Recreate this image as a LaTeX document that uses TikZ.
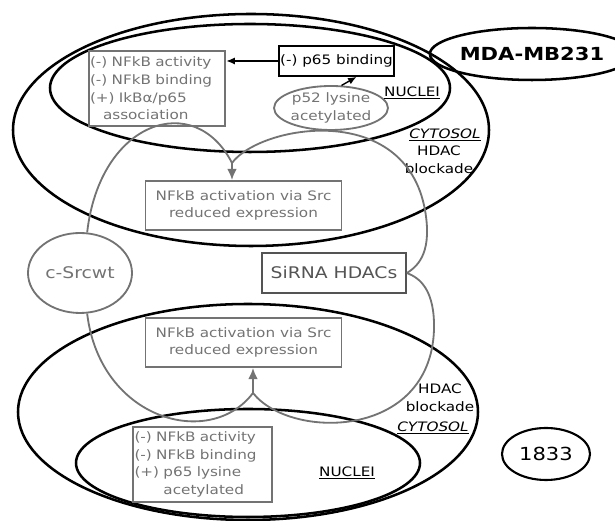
\documentclass[tikz,border=0pt]{standalone}
\usepackage{fontspec}
\setmainfont{DejaVu Sans}[FakeStretch=1.17]
\usetikzlibrary{arrows.meta,shapes.geometric}
\definecolor{boxgray}{gray}{0.45}
\definecolor{sirnagray}{gray}{0.33}

\begin{document}
\begin{tikzpicture}[>={Latex[length=6pt,width=5pt]},
  every node/.style={font=\fontsize{9.25}{12.6}\selectfont},
  membrane/.style={draw,ellipse,line width=1.8pt,inner sep=0pt},
  box/.style={draw=boxgray,text=boxgray,line width=1.3pt,inner sep=1pt,
              align=center},
  route/.style={draw=boxgray,line width=1.3pt},
  tag/.style={inner sep=0pt,align=center}]
 \useasboundingbox (0,0) rectangle (15.375,13.025);
 % MDA-MB231 cell
 \node[membrane,minimum width=11.9cm,minimum height=5.8cm] (upcyto) at (6.275,9.775) {};
 \node[membrane,minimum width=10cm,minimum height=3.2cm] (upnuc) at (6.25,10.825) {};
 \node[membrane,minimum width=4.1cm,minimum height=1.3cm,
    font=\fontsize{12.8}{14}\selectfont\bfseries] (mda) at (13.3,11.675) {MDA-MB231};
 \node[box,align=left,text width=3.35cm,minimum height=1.875cm] (upeffect) at (3.925,10.8125)
    {(-) NFkB activity\\(-) NFkB binding\\(+) IkBα/p65\\\hspace*{1em}association};
 \node[draw,line width=1.3pt,inner sep=1pt,minimum width=2.875cm,minimum height=0.75cm]
    (p65) at (8.4125,11.5) {(-) p65 binding};
 \node[box,ellipse,inner sep=0pt,minimum width=2.775cm,minimum height=1.1cm]
    (p52) at (8.275,10.325) {p52 lysine\\acetylated};
 \node[tag] (upnuclei) at (10.3,10.7) {\underline{NUCLEI}};
 \node[tag] (upcytosol) at (11.125,9.65) {\itshape\underline{CYTOSOL}};
 \node[tag] (upblock) at (10.975,9.025) {HDAC\\blockade};
 \node[box,minimum width=4.9cm,minimum height=1.225cm] (upact) at (6.0875,7.8875)
    {NFkB activation via Src\\reduced expression};
 % treatments
 \node[box,ellipse,minimum width=2.6cm,minimum height=2cm,
    font=\fontsize{11.4}{13}\selectfont] (srcwt) at (2,6.2) {c-Srcwt};
 \node[box,draw=sirnagray,text=sirnagray,minimum width=3.6cm,minimum height=1cm,
    font=\fontsize{11.4}{13}\selectfont] (sirna) at (8.35,6.2) {SiRNA HDACs};
 % 1833 cell
 \node[membrane,minimum width=11.5cm,minimum height=5.4cm] (lowcyto) at (6.2,2.725) {};
 \node[membrane,minimum width=8.6cm,minimum height=2.7cm] (lownuc) at (6.2,1.45) {};
 \node[box,minimum width=4.9cm,minimum height=1.225cm] (lowact) at (6.0875,4.4625)
    {NFkB activation via Src\\reduced expression};
 \node[box,align=left,text width=3.4cm,minimum height=1.875cm] (loweffect) at (5.0625,1.4125)
    {(-) NFkB activity\\(-) NFkB binding\\(+) p65 lysine\\\phantom{(+) }acetylated};
 \node[membrane,line width=1.5pt,minimum width=2.2cm,minimum height=1.3cm,
    font=\fontsize{12.8}{14}\selectfont] (line1833) at (13.65,1.675) {1833};
 \node[tag] (lowblock) at (11,3.0875) {HDAC\\blockade};
 \node[tag] (lowcytosol) at (10.825,2.325) {\itshape\underline{CYTOSOL}};
 \node[tag] (lownuclei) at (8.675,1.2) {\underline{NUCLEI}};
 % pathways
 \coordinate (upjoin) at (5.8,8.95);
 \coordinate (lowjoin) at (6.325,3.2);
 \draw[route] (srcwt.80) .. controls (2.5,10.025) and (4.875,10.775) .. (upjoin);
 \draw[route] (upjoin) .. controls (6.5,9.9) and (10.125,10.525) .. (10.625,7.775)
    .. controls (10.8,6.775) and (10.5,6.4) .. (sirna.east);
 \draw[route,-{Latex[length=8pt,width=7pt]}] (upjoin) -- (upjoin |- upact.north);
 \draw[route] (srcwt.-80) .. controls (2.5,2.525) and (5.25,1.775) .. (lowjoin);
 \draw[route] (lowjoin) .. controls (7.25,2.025) and (10.75,2.025) .. (10.85,4.775)
    .. controls (10.875,5.775) and (10.5,6.075) .. (sirna.east);
 \draw[route,-{Latex[length=8pt,width=7pt]}] (lowjoin) -- (lowjoin |- lowact.south);
 \draw[->,line width=1pt] (p65.west) -- (p65.west -| upeffect.east);
 \draw[->,line width=1pt] (p52.65) -- ([xshift=5mm]p65.south);
\end{tikzpicture}
\end{document}
